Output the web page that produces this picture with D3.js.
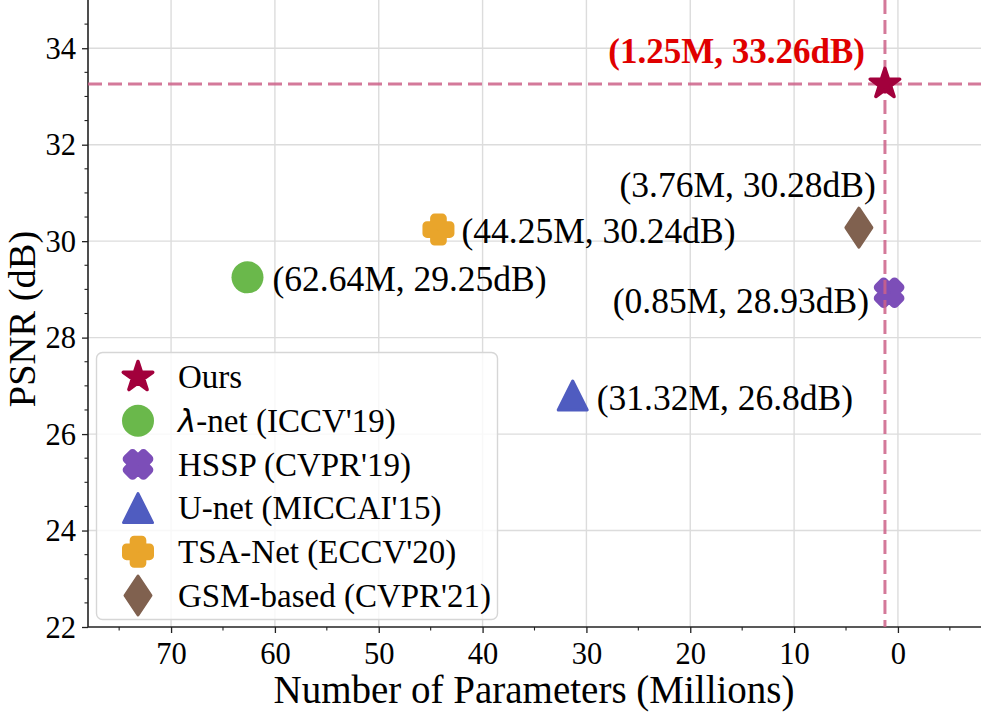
<!DOCTYPE html>
<html>
<head>
<meta charset="utf-8">
<script src="https://cdn.jsdelivr.net/npm/d3@7"></script>
<style>
  html, body { margin: 0; padding: 0; background: #fff; }
  svg { display: block; font-family: "Liberation Serif", "Times New Roman", serif; }
</style>
</head>
<body>
<svg id="chart" width="981" height="713"></svg>
<script>
// ---------------- data ----------------
const methods = ["Ours", "λ-net (ICCV'19)", "HSSP (CVPR'19)", "U-net (MICCAI'15)", "TSA-Net (ECCV'20)", "GSM-based (CVPR'21)"];
const params = [1.25, 62.64, 0.85, 31.32, 44.25, 3.76];      // millions
const psnr = [33.26, 29.25, 28.93, 26.8, 30.24, 30.28];      // dB
const pointLabels = ["(1.25M, 33.26dB)", "(62.64M, 29.25dB)", "(0.85M, 28.93dB)", "(31.32M, 26.8dB)", "(44.25M, 30.24dB)", "(3.76M, 30.28dB)"];
const xTicks = [70, 60, 50, 40, 30, 20, 10, 0];
const yTicks = [22, 24, 26, 28, 30, 32, 34];

// ---------------- styles ----------------
const colors = ["#a2003c", "#6ab84b", "#7c4eb8", "#4f5cc0", "#e9a52b", "#80614f"];
const shapes = ["star", "circle", "xfill", "triangle", "plusfill", "thindiamond"];
// label placement: anchor and pixel offset from marker
const labelLayout = [
  {anchor: "end", dx: -20, dy: -21, bold: true, color: "#e00000", size: 35},
  {anchor: "start", dx: 25, dy: 14, bold: false, color: "#000", size: 35.5},
  {anchor: "end", dx: -20, dy: 20, bold: false, color: "#000", size: 35.5},
  {anchor: "start", dx: 24, dy: 15, bold: false, color: "#000", size: 35.5},
  {anchor: "start", dx: 23, dy: 13, bold: false, color: "#000", size: 35.5},
  {anchor: "end", dx: 17, dy: -31, bold: false, color: "#000", size: 35.5}
];

const plotLeft = 88, plotBottom = 627, plotRight = 981, plotTop = 0;

const svg = d3.select("#chart");
const x = d3.scaleLinear().domain([78, -8]).range([plotLeft, plotRight]);
const y = d3.scaleLinear().domain([22, 35]).range([plotBottom, plotTop]);

// ---------------- marker paths ----------------
function markerPath(shape) {
  const p = d3.path();
  if (shape === "star") {
    const R = 15.5, r = R * 0.382;
    for (let k = 0; k < 10; k++) {
      const a = (-90 + k * 36) * Math.PI / 180;
      const rr = k % 2 === 0 ? R : r;
      const px = rr * Math.cos(a), py = rr * Math.sin(a);
      k === 0 ? p.moveTo(px, py) : p.lineTo(px, py);
    }
    p.closePath();
    return {d: p.toString(), sw: 3.5};
  }
  if (shape === "circle") {
    p.arc(0, 0, 16, 0, 2 * Math.PI);
    return {d: p.toString(), sw: 0};
  }
  if (shape === "triangle") {
    const a = 14.5;
    p.moveTo(0, -a); p.lineTo(a, a); p.lineTo(-a, a); p.closePath();
    return {d: p.toString(), sw: 3};
  }
  if (shape === "thindiamond") {
    const hw = 13, hh = 19.5;
    p.moveTo(0, -hh); p.lineTo(hw, 0); p.lineTo(0, hh); p.lineTo(-hw, 0); p.closePath();
    return {d: p.toString(), sw: 3};
  }
  if (shape === "plusfill" || shape === "xfill") {
    const S = 23, h = S / 2, a = S / 6;
    let pts = [[a, -h], [a, -a], [h, -a], [h, a], [a, a], [a, h], [-a, h], [-a, a], [-h, a], [-h, -a], [-a, -a], [-a, -h]];
    if (shape === "xfill") {
      const c = Math.SQRT1_2;
      pts = pts.map(([u, v]) => [c * (u - v), c * (u + v)]);
    }
    pts.forEach(([u, v], i) => i === 0 ? p.moveTo(u, v) : p.lineTo(u, v));
    p.closePath();
    return {d: p.toString(), sw: 9};
  }
}

// ---------------- grid ----------------
const grid = svg.append("g").attr("class", "grid");
grid.selectAll("line.gx").data(xTicks).join("line")
  .attr("x1", d => x(d)).attr("x2", d => x(d))
  .attr("y1", plotTop).attr("y2", plotBottom)
  .attr("stroke", "#dcdcdc").attr("stroke-width", 1.4);
grid.selectAll("line.gy").data(yTicks.filter(d => d !== 22)).join("line")
  .attr("x1", plotLeft).attr("x2", plotRight)
  .attr("y1", d => y(d)).attr("y2", d => y(d))
  .attr("stroke", "#dcdcdc").attr("stroke-width", 1.4);

// ---------------- axes ----------------
const xMinor = d3.range(75, -8, -10);
const yMinor = d3.range(22.5, 35, 0.5).filter(v => !yTicks.includes(v));

const xAxis = d3.axisBottom(x).tickValues(xTicks).tickSize(6).tickPadding(9).tickFormat(d3.format("d"));
const yAxis = d3.axisLeft(y).tickValues(yTicks).tickSize(6).tickPadding(6).tickFormat(d3.format("d"));

const gx = svg.append("g").attr("transform", `translate(0,${plotBottom})`).call(xAxis);
const gy = svg.append("g").attr("transform", `translate(${plotLeft},0)`).call(yAxis);
[gx, gy].forEach(g => {
  g.select(".domain").remove();
  g.selectAll(".tick line").attr("stroke", "#222").attr("stroke-width", 1.3);
  g.selectAll(".tick text").attr("fill", "#000").style("font-family", "Liberation Serif").style("font-size", "30.5px");
});
gy.selectAll(".tick text").attr("dy", "0.33em");

svg.append("g").selectAll("line").data(xMinor).join("line")
  .attr("x1", d => x(d)).attr("x2", d => x(d))
  .attr("y1", plotBottom).attr("y2", plotBottom + 3.5)
  .attr("stroke", "#222").attr("stroke-width", 1.1);
svg.append("g").selectAll("line").data(yMinor).join("line")
  .attr("x1", plotLeft - 3.5).attr("x2", plotLeft)
  .attr("y1", d => y(d)).attr("y2", d => y(d))
  .attr("stroke", "#222").attr("stroke-width", 1.1);

// spines
svg.append("line").attr("x1", plotLeft).attr("x2", plotRight).attr("y1", plotBottom).attr("y2", plotBottom)
  .attr("stroke", "#222").attr("stroke-width", 1.6);
svg.append("line").attr("x1", plotLeft).attr("x2", plotLeft).attr("y1", plotTop).attr("y2", plotBottom)
  .attr("stroke", "#222").attr("stroke-width", 1.6);

// axis labels
svg.append("text").attr("x", 534).attr("y", 703).attr("text-anchor", "middle")
  .style("font-size", "39px").text("Number of Parameters (Millions)");
svg.append("text").attr("transform", "translate(35,319) rotate(-90)").attr("text-anchor", "middle")
  .style("font-size", "38.5px").text("PSNR (dB)");

// ---------------- points ----------------
const idx = d3.range(methods.length);
const order = [1, 2, 3, 4, 5]; // others first
const pts = svg.append("g");
order.forEach(i => {
  const m = markerPath(shapes[i]);
  pts.append("path").attr("d", m.d)
    .attr("transform", `translate(${x(params[i])},${y(psnr[i])})`)
    .attr("fill", colors[i]).attr("stroke", colors[i])
    .attr("stroke-width", m.sw).attr("stroke-linejoin", "round");
});

// reference dashed lines for "Ours"
svg.append("line").attr("x1", plotLeft).attr("x2", plotRight)
  .attr("y1", y(psnr[0])).attr("y2", y(psnr[0]))
  .attr("stroke", "#cc6288").attr("stroke-opacity", 0.85).attr("stroke-width", 3).attr("stroke-dasharray", "14,6");
svg.append("line").attr("x1", x(params[0])).attr("x2", x(params[0]))
  .attr("y1", plotTop).attr("y2", plotBottom)
  .attr("stroke", "#cc6288").attr("stroke-opacity", 0.85).attr("stroke-width", 3).attr("stroke-dasharray", "14,6");

{
  const m = markerPath(shapes[0]);
  svg.append("path").attr("d", m.d)
    .attr("transform", `translate(${x(params[0])},${y(psnr[0])})`)
    .attr("fill", colors[0]).attr("stroke", colors[0])
    .attr("stroke-width", m.sw).attr("stroke-linejoin", "round");
}

// point labels
svg.append("g").selectAll("text").data(idx).join("text")
  .attr("x", i => x(params[i]) + labelLayout[i].dx)
  .attr("y", i => y(psnr[i]) + labelLayout[i].dy)
  .attr("text-anchor", i => labelLayout[i].anchor)
  .attr("fill", i => labelLayout[i].color)
  .style("font-weight", i => labelLayout[i].bold ? "bold" : "normal")
  .style("font-size", i => labelLayout[i].size + "px")
  .text(i => pointLabels[i]);

// ---------------- legend ----------------
const lg = svg.append("g");
lg.append("rect").attr("x", 96.5).attr("y", 352.5).attr("width", 401).attr("height", 267)
  .attr("rx", 6).attr("ry", 6)
  .attr("fill", "#fff").attr("fill-opacity", 0.8)
  .attr("stroke", "#d6d6d6").attr("stroke-width", 1.4);
const rows = lg.selectAll("g.row").data(idx).join("g")
  .attr("transform", i => `translate(138,${377 + i * 43.7})`);
rows.append("path")
  .attr("d", i => markerPath(shapes[i]).d)
  .attr("fill", i => colors[i]).attr("stroke", i => colors[i])
  .attr("stroke-width", i => markerPath(shapes[i]).sw).attr("stroke-linejoin", "round");
rows.append("text").attr("x", 40).attr("dy", "0.34em")
  .style("font-size", "33px")
  .each(function(i) {
    const t = d3.select(this);
    const name = methods[i];
    if (name.startsWith("λ")) {
      t.append("tspan").style("font-family", "DejaVu Sans").style("font-style", "oblique").style("font-size", "31px").text("λ");
      t.append("tspan").text(name.slice(1));
    } else {
      t.text(name);
    }
  });
</script>
</body>
</html>
